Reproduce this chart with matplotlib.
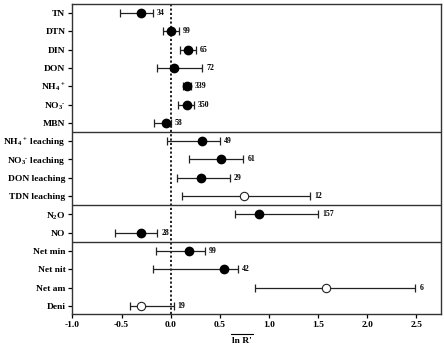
import matplotlib
matplotlib.use("Agg")
import matplotlib.pyplot as plt
import numpy as np

plt.rcParams['font.family'] = ['Liberation Serif', 'DejaVu Serif']
plt.rcParams['font.weight'] = 'bold'
plt.rcParams['mathtext.fontset'] = 'custom'
plt.rcParams['mathtext.rm'] = 'Liberation Serif:bold'
plt.rcParams['mathtext.it'] = 'Liberation Serif:bold'
plt.rcParams['mathtext.bf'] = 'Liberation Serif:bold'

labels = ['TN', 'DTN', 'DIN', 'DON', 'NH$_4$$^+$', 'NO$_3$$^{\u2010}$', 'MBN',
          'NH$_4$$^+$ leaching', 'NO$_3$$^{\u2010}$ leaching', 'DON leaching', 'TDN leaching',
          'N$_2$O', 'NO',
          'Net min', 'Net nit', 'Net am', 'Deni']
means = [-0.30, 0.00, 0.18, 0.03, 0.17, 0.17, -0.045,
         0.32, 0.51, 0.31, 0.75,
         0.895, -0.30,
         0.19, 0.54, 1.58, -0.30]
lower = [-0.52, -0.075, 0.10, -0.14, 0.13, 0.075, -0.17,
         -0.04, 0.19, 0.06, 0.115,
         0.65, -0.57,
         -0.145, -0.18, 0.86, -0.41]
upper = [-0.18, 0.08, 0.26, 0.32, 0.21, 0.24, 0.00,
         0.50, 0.74, 0.60, 1.42,
         1.50, -0.135,
         0.35, 0.685, 2.49, 0.03]
counts = [34, 99, 65, 72, 339, 350, 58,
          49, 61, 29, 12,
          157, 28,
          99, 42, 6, 19]
open_marker = [False]*10 + [True] + [False]*4 + [True, True]
group_breaks = [6.5, 10.5, 12.5]
xticks = [-1.0, -0.5, 0.0, 0.5, 1.0, 1.5, 2.0, 2.5]

fig = plt.figure(figsize=(4.44, 3.49), dpi=100)
ax = fig.add_axes([0.163, 0.100, 0.830, 0.889])

y = np.arange(len(labels))
ax.axvline(0, color='#111111', linestyle=(0, (1.2, 1.2)), linewidth=1.3, zorder=1)
for b in group_breaks:
    ax.axhline(b, color='#333333', linewidth=1.0, zorder=1)

for i in range(len(labels)):
    m, lo, hi = means[i], lower[i], upper[i]
    ax.errorbar([m], [y[i]], xerr=[[m - lo], [hi - m]], fmt='none',
                ecolor='#222222', elinewidth=0.9, capsize=2.8, capthick=0.9, zorder=2)
    if open_marker[i]:
        ax.plot(m, y[i], 'o', markersize=6, markerfacecolor='white',
                markeredgecolor='#222222', markeredgewidth=0.8, zorder=3)
    else:
        ax.plot(m, y[i], 'o', markersize=6, color='black', zorder=3)
    ax.text(hi + 0.04, y[i], str(counts[i]), fontsize=5.6, fontweight='bold',
            va='center', ha='left', zorder=4)

ax.set_xlim(-1.0, 2.75)
ax.set_ylim(16.45, -0.5)
ax.set_yticks(y)
ax.set_yticklabels(labels, fontsize=6.8, fontweight='bold')
ax.set_xticks(xticks)
ax.set_xticklabels([f'{t:.1f}' for t in xticks], fontsize=6.8, fontweight='bold')
ax.tick_params(axis='both', direction='out', length=3, width=0.9, pad=2)
for s in ax.spines.values():
    s.set_linewidth(1.0)
    s.set_color('#333333')

fig.text(242/444, 1 - 341/349, "ln R'", fontsize=6.8, fontweight='bold',
         ha='center', va='center')
fig.add_artist(plt.Line2D([231/444, 253/444], [1 - 333.5/349, 1 - 333.5/349],
                          color='black', linewidth=0.8))

fig.savefig('out.png', dpi=100)
